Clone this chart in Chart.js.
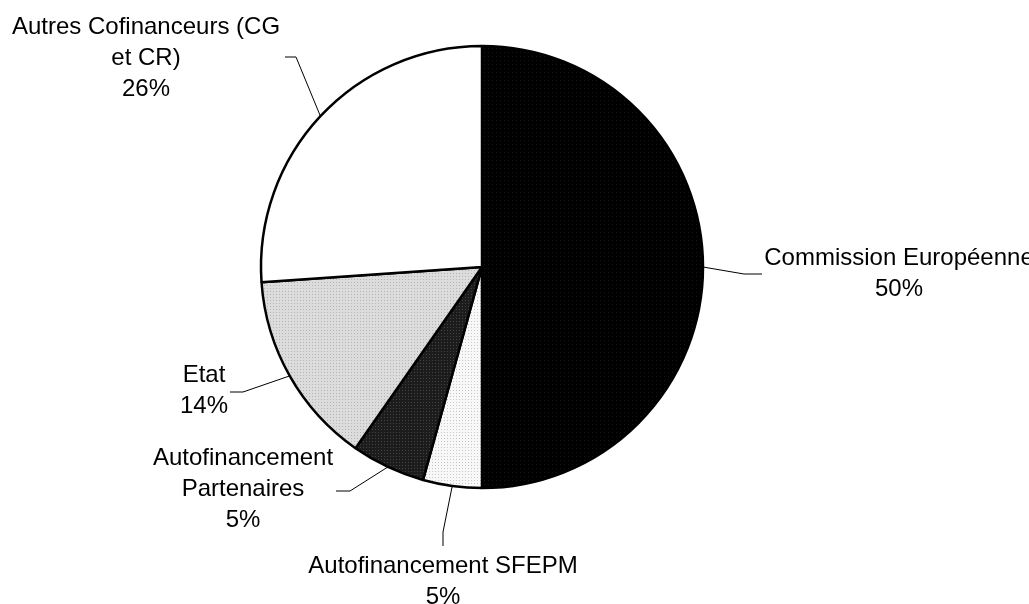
<!DOCTYPE html>
<html>
<head>
<meta charset="utf-8">
<script src="https://cdn.jsdelivr.net/npm/chart.js@4.4.1/dist/chart.umd.min.js"></script>
<style>
  html, body { margin: 0; padding: 0; background: #fff; }
  #wrap { width: 1029px; height: 604px; position: relative; }
</style>
</head>
<body>
<div id="wrap"><canvas id="fundingPie" width="1029" height="604"></canvas></div>
<script>
// Répartition du financement
const categories = [
  "Commission Européenne",
  "Autofinancement SFEPM",
  "Autofinancement Partenaires",
  "Etat",
  "Autres Cofinanceurs (CG et CR)",
];
const shares = [50.0, 4.3, 5.4, 14.2, 26.1];
const shareLabels = ["50%", "5%", "5%", "14%", "26%"];

// label text as it wraps in the original
const labelLines = [
  ["Commission Européenne", "50%"],
  ["Autofinancement SFEPM", "5%"],
  ["Autofinancement", "Partenaires", "5%"],
  ["Etat", "14%"],
  ["Autres Cofinanceurs (CG", "et CR)", "26%"],
];

// text centre / first line y, elbow of leader, end of leader
const labelLayout = [
  { x: 899, y: 258, elbow: [744, 274], end: [762, 274] },
  { x: 443, y: 566, elbow: [443, 532], end: [443, 546] },
  { x: 243, y: 458, elbow: [350, 491], end: [336, 491] },
  { x: 204, y: 375, elbow: [243, 392], end: [230, 392] },
  { x: 146, y: 27, elbow: [296, 57], end: [285, 57] },
];

function makePattern(bg, dot, step) {
  const c = document.createElement("canvas");
  c.width = step;
  c.height = step;
  const g = c.getContext("2d");
  g.fillStyle = bg;
  g.fillRect(0, 0, step, step);
  g.fillStyle = dot;
  g.fillRect(0, 0, 1, 1);
  return g.createPattern(c, "repeat");
}

const fills = [
  makePattern("#000000", "#161616", 4),
  makePattern("#f8f8f8", "#c8c8c8", 3),
  makePattern("#1c1c1c", "#444444", 3),
  makePattern("#dcdcdc", "#b4b4b4", 3),
  "#ffffff",
];

const pieLabels = {
  id: "pieLabels",
  afterDatasetsDraw(chart) {
    const ctx = chart.ctx;
    const meta = chart.getDatasetMeta(0);
    ctx.save();
    ctx.strokeStyle = "#000";
    ctx.lineWidth = 1;
    ctx.fillStyle = "#000";
    ctx.font = "24px 'Liberation Sans', Arial, sans-serif";
    ctx.textAlign = "center";
    ctx.textBaseline = "middle";
    meta.data.forEach((arc, i) => {
      const mid = (arc.startAngle + arc.endAngle) / 2;
      const px = arc.x + Math.cos(mid) * arc.outerRadius;
      const py = arc.y + Math.sin(mid) * arc.outerRadius;
      const lay = labelLayout[i];
      ctx.beginPath();
      ctx.moveTo(px, py);
      ctx.lineTo(lay.elbow[0], lay.elbow[1]);
      ctx.lineTo(lay.end[0], lay.end[1]);
      ctx.stroke();
      labelLines[i].forEach((line, j) => {
        ctx.fillText(line, lay.x, lay.y + j * 31);
      });
    });
    ctx.restore();
  },
};

new Chart(document.getElementById("fundingPie"), {
  type: "pie",
  data: {
    labels: categories,
    datasets: [
      {
        data: shares,
        backgroundColor: fills,
        borderColor: "#000",
        borderWidth: 2.5,
        radius: 221,
      },
    ],
  },
  options: {
    responsive: false,
    animation: false,
    layout: { padding: { left: 260, right: 325, top: 45, bottom: 115 } },
    plugins: {
      legend: { display: false },
      tooltip: { enabled: false },
    },
  },
  plugins: [pieLabels],
});
</script>
</body>
</html>
